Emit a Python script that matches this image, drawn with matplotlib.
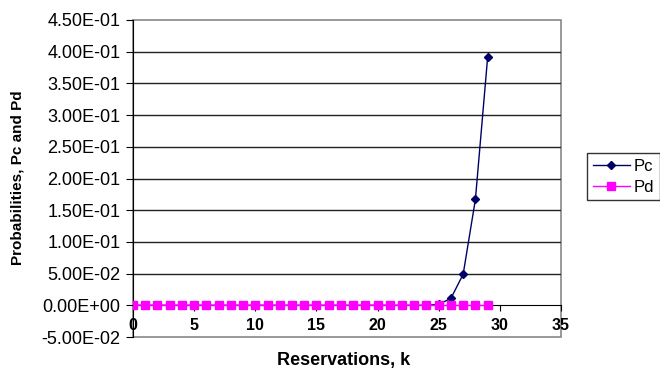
import matplotlib
matplotlib.use("Agg")
import matplotlib.pyplot as plt
from matplotlib.patches import Rectangle
from matplotlib.ticker import FuncFormatter

plt.rcParams['font.family'] = ['Liberation Sans', 'DejaVu Sans']

k = list(range(0, 30))
pc = [0]*25 + [0.0015, 0.011, 0.049, 0.167, 0.391]
pd = [0]*30
y_ticks = [-0.05, 0.0, 0.05, 0.10, 0.15, 0.20, 0.25, 0.30, 0.35, 0.40, 0.45]
x_ticks = [0, 5, 10, 15, 20, 25, 30, 35]

fig = plt.figure(figsize=(6.6, 3.69), dpi=100)
ax = fig.add_axes([133/660, 1-337/369, (561-133)/660, (337-20)/369])

ax.set_xlim(0, 35)
ax.set_ylim(-0.05, 0.45)

for yv in y_ticks:
    if yv not in (-0.05, 0.45, 0.0):
        ax.axhline(yv, color='#222222', lw=1.0, zorder=1)

ax.plot(k, pc, color='#000066', lw=1.0, marker='D', ms=4.5, label='Pc', zorder=3)
ax.plot(k, pd, color='#FF00FF', lw=1.0, marker='s', ms=6, label='Pd', zorder=4)

ax.spines['top'].set_visible(False)
ax.spines['right'].set_visible(False)
ax.spines['bottom'].set_position(('data', 0))
ax.spines['bottom'].set_color('black')
ax.spines['bottom'].set_zorder(2)
ax.spines['left'].set_color('black')
ax.add_patch(Rectangle((0, 0), 1, 1, transform=ax.transAxes, fill=False,
                       edgecolor='#888888', lw=1.2, clip_on=False, zorder=0))

ax.set_yticks(y_ticks)
ax.yaxis.set_major_formatter(FuncFormatter(lambda v, p: '{:.2E}'.format(v)))
ax.set_xticks(x_ticks)
ax.tick_params(axis='y', direction='out', length=5, labelsize=13, color='black', pad=4)
ax.tick_params(axis='x', direction='out', length=4, labelsize=11.5, color='black', pad=5)
for lab in ax.get_xticklabels():
    lab.set_fontweight('bold')

fig.text(18/660, 1-178/369, 'Probabilities, Pc and Pd', fontsize=11, fontweight='bold',
         rotation=90, ha='center', va='center')
fig.text((133+561)/2/660 - 0.005, 1-360/369, 'Reservations, k', fontsize=13, fontweight='bold',
         ha='center', va='center')

leg = ax.legend(loc='upper left', bbox_to_anchor=(587/660, 1-153/369),
                bbox_transform=fig.transFigure, frameon=True, fancybox=False,
                edgecolor='black', fontsize=12, handlelength=2.2, borderpad=0.35,
                labelspacing=0.35, handletextpad=0.25, borderaxespad=0)
leg.get_frame().set_linewidth(1.0)

fig.savefig('out.png', dpi=100)
